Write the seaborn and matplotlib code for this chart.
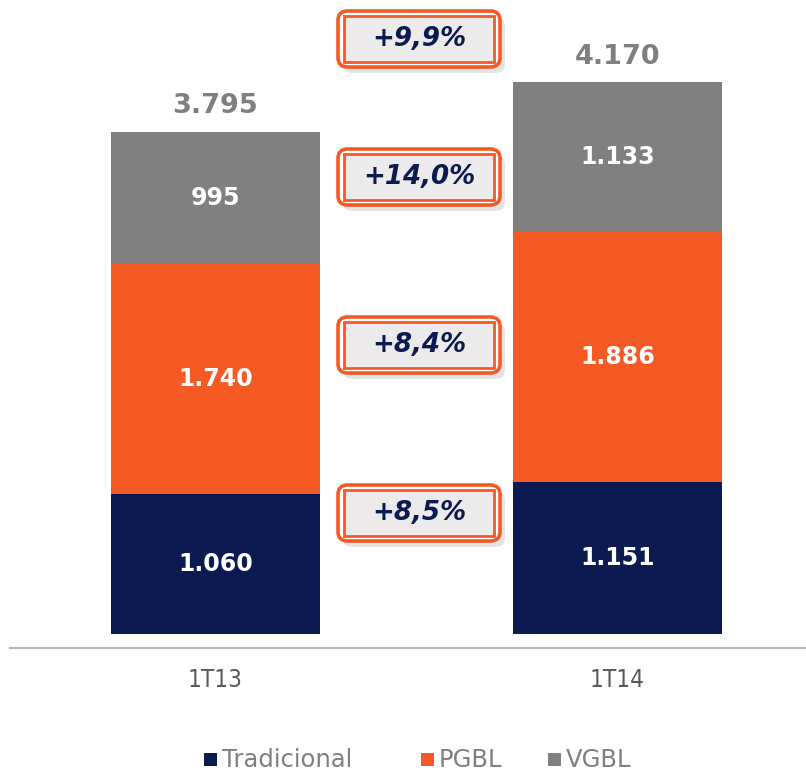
import matplotlib
matplotlib.use("Agg")
import matplotlib.pyplot as plt
from matplotlib.patches import FancyBboxPatch, Rectangle
import seaborn as sns
import pandas as pd
import numpy as np

periods = ["1T13", "1T14"]
series = ["Tradicional", "PGBL", "VGBL"]
tradicional = [1060, 1151]
pgbl = [1740, 1886]
vgbl = [995, 1133]
totals = [3795, 4170]
growth = ["+8,5%", "+8,4%", "+14,0%", "+9,9%"]

colors = {"Tradicional": "#0c1a52", "PGBL": "#f55a24", "VGBL": "#808080"}

sns.set_theme(style="white")
plt.rcParams["font.family"] = ["DejaVu Sans"]

W, H = 806, 771
fig = plt.figure(figsize=(W / 100, H / 100), dpi=100)
ax = fig.add_axes([10 / W, 123 / H, 796 / W, 648 / H])

# cumulative tops of each layer, drawn from the highest layer down
layers = {
    "VGBL": np.array(tradicional) + np.array(pgbl) + np.array(vgbl),
    "PGBL": np.array(tradicional) + np.array(pgbl),
    "Tradicional": np.array(tradicional),
}
for name, tops in layers.items():
    df = pd.DataFrame({"period": periods, "value": tops})
    sns.barplot(data=df, x="period", y="value", color=colors[name],
                width=0.52, saturation=1, ax=ax, linewidth=0)

# segment labels
bottoms = np.zeros(2)
for vals in (tradicional, pgbl, vgbl):
    for i, v in enumerate(vals):
        ax.text(i, bottoms[i] + v / 2, f"{v:,}".replace(",", "."),
                ha="center", va="center", color="white",
                fontsize=17, fontweight="bold")
    bottoms += np.array(vals)

# totals above bars
for i, t in enumerate(totals):
    ax.text(i, t + 95, f"{t:,}".replace(",", "."), ha="center", va="bottom",
            color="#7f7f7f", fontsize=19.5, fontweight="bold")

ax.set_xlim(-0.511, 1.469)
ax.set_ylim(-106, 4793)
ax.set_xlabel("")
ax.set_ylabel("")
ax.set_xticks([])
ax.set_yticks([])
for s in ("top", "right", "left"):
    ax.spines[s].set_visible(False)
ax.spines["bottom"].set_color("#b8b8b8")
ax.spines["bottom"].set_linewidth(1.6)

# category labels
for i, p in enumerate(periods):
    x_px = 215.5 + 402 * i
    fig.text(x_px / W, 1 - 680 / H, p, ha="center", va="center",
             color="#595959", fontsize=17.5, fontstretch="condensed")

# growth badges
badge_y = [513, 345, 177, 39]
for txt, yc in zip(growth, badge_y):
    cx = 419
    w_out, h_out = 162, 56
    # shadow
    fig.patches.append(FancyBboxPatch(
        ((cx - w_out / 2 + 5) / W, 1 - (yc + h_out / 2 + 6) / H),
        w_out / W, h_out / H, boxstyle="round,pad=0,rounding_size=0.012",
        transform=fig.transFigure, facecolor="#d9d9d9", edgecolor="none",
        alpha=0.7, zorder=1))
    fig.patches.append(FancyBboxPatch(
        ((cx - w_out / 2) / W, 1 - (yc + h_out / 2) / H),
        w_out / W, h_out / H, boxstyle="round,pad=0,rounding_size=0.012",
        transform=fig.transFigure, facecolor="white", edgecolor="#f55a24",
        linewidth=2.6, zorder=2))
    w_in, h_in = 150, 46
    fig.patches.append(Rectangle(
        ((cx - w_in / 2) / W, 1 - (yc + h_in / 2) / H), w_in / W, h_in / H,
        transform=fig.transFigure, facecolor="#eceaea", edgecolor="#f55a24",
        linewidth=2.0, zorder=3))
    fig.text(cx / W, 1 - yc / H, txt, ha="center", va="center",
             color="#0c1a52", fontsize=18.8, fontweight="bold", style="italic",
             zorder=4)

# legend
legend_items = [("Tradicional", 204), ("PGBL", 421), ("VGBL", 548)]
for name, x0 in legend_items:
    fig.patches.append(Rectangle((x0 / W, 1 - 766 / H), 13 / W, 13 / H,
                                 transform=fig.transFigure,
                                 facecolor=colors[name], edgecolor="none"))
    fig.text((x0 + 18) / W, 1 - 760 / H, name, ha="left", va="center",
             color="#7f7f7f", fontsize=17.5)

fig.savefig("out.png", dpi=100, facecolor="white")
